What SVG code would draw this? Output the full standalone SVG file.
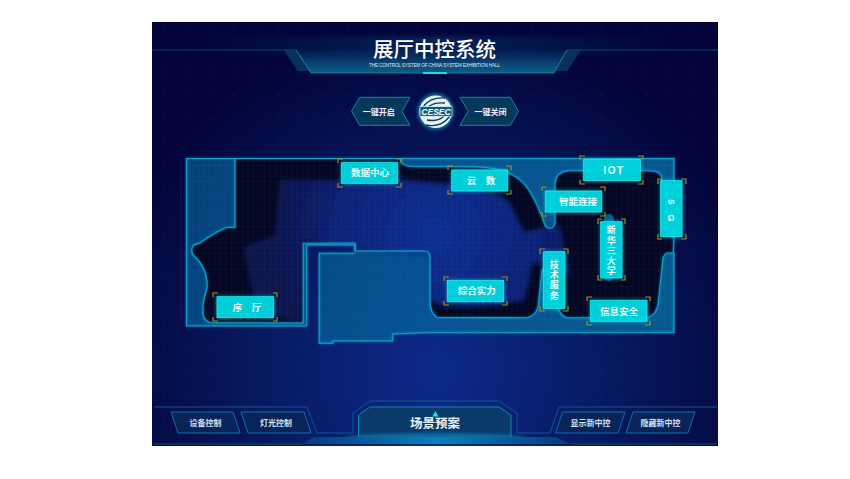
<svg xmlns="http://www.w3.org/2000/svg" width="850" height="479" viewBox="0 0 850 479">
<style>
text{font-family:"Noto Sans CJK SC","Liberation Sans",sans-serif;fill:#fff;text-anchor:middle;font-weight:700}
.box{fill:#03d3dd;fill-opacity:.95;stroke:#20f0f0;stroke-width:.8;filter:url(#glow)}
.lbl{font-size:9.5px;fill:#e8fbfb;font-weight:700}
.v{font-size:9px;writing-mode:vertical-rl;letter-spacing:1.200px}
.brk{fill:none;stroke:#a68f22;stroke-width:1.2}
.wall{fill:none;stroke:#12a0c8;stroke-width:1.1}
.sb{fill:#082458;stroke:#0e6fa5;stroke-width:1}
.bl{font-size:8px;fill:#d5e6f2;font-weight:700}
.hb{fill:#06385c;stroke:#0e86a8;stroke-width:1}
.hl{font-size:8px;fill:#eef;font-weight:700}
</style>
<defs>
<radialGradient id="bg" gradientUnits="userSpaceOnUse" cx="435" cy="370" r="340"><stop offset="0" stop-color="#0c2a8a"/><stop offset=".5" stop-color="#071a62"/><stop offset="1" stop-color="#03053a"/></radialGradient>
<linearGradient id="hdr" x1="0" y1="0" x2="0" y2="1"><stop offset="0" stop-color="#0a4a7c" stop-opacity=".15"/><stop offset=".6" stop-color="#0a4674"/><stop offset="1" stop-color="#0c5c86"/></linearGradient>
<linearGradient id="hglow" x1="0" y1="0" x2="1" y2="0"><stop offset="0" stop-color="#0a4a7c" stop-opacity="0"/><stop offset=".5" stop-color="#0a4a7c" stop-opacity=".8"/><stop offset="1" stop-color="#0a4a7c" stop-opacity="0"/></linearGradient>
<linearGradient id="base" x1="0" y1="0" x2="1" y2="0"><stop offset="0" stop-color="#07397a"/><stop offset=".5" stop-color="#0b80bc"/><stop offset="1" stop-color="#07397a"/></linearGradient>
<linearGradient id="bld" gradientUnits="userSpaceOnUse" x1="186" y1="158" x2="674" y2="333"><stop offset="0" stop-color="#05417a"/><stop offset=".5" stop-color="#055291"/><stop offset="1" stop-color="#08598f"/></linearGradient>
<radialGradient id="room" gradientUnits="userSpaceOnUse" cx="435" cy="235" r="160"><stop offset="0" stop-color="#0d2f94"/><stop offset=".6" stop-color="#0a2278"/><stop offset="1" stop-color="#07134e"/></radialGradient>
<pattern id="grid" width="5.5" height="5.5" patternUnits="userSpaceOnUse"><path d="M5.5 0H0V5.5" fill="none" stroke="#4aa8d8" stroke-opacity=".13" stroke-width=".6"/></pattern>
<pattern id="dots" width="23" height="23" patternUnits="userSpaceOnUse"><circle cx="3" cy="3" r=".5" fill="#3a7ab0" fill-opacity=".4"/></pattern>
<filter id="glow" x="-30%" y="-30%" width="160%" height="160%"><feGaussianBlur in="SourceAlpha" stdDeviation="2.2" result="b"/><feFlood flood-color="#10e0e8" flood-opacity=".6"/><feComposite in2="b" operator="in"/><feMerge><feMergeNode/><feMergeNode in="SourceGraphic"/></feMerge></filter>
<filter id="wglow" x="-5%" y="-5%" width="110%" height="110%"><feGaussianBlur in="SourceGraphic" stdDeviation="1" result="b"/><feMerge><feMergeNode in="b"/><feMergeNode in="SourceGraphic"/></feMerge></filter>
<filter id="soft" x="-10%" y="-10%" width="120%" height="120%"><feGaussianBlur stdDeviation="2.500"/></filter>
<filter id="wg" x="-20%" y="-20%" width="140%" height="140%"><feGaussianBlur stdDeviation="1.500"/></filter>
<path id="interior" d="M235 158.500V227.500H227Q215 232 200 243L194 245Q190 249 193 255Q202 263 205 272Q208 282 207 288Q204 298 203 305V315Q205 322 211 322.700H255L303.300 323V243.300H355V251H424Q430 251 430 257V300Q430 313 437 317.500H443L526.700 317.700Q536 316 538 306.700L541.700 273Q542 268 545 266.700L558 268V308Q561 316 566.700 317.700H646.700Q656 315 658 305L663 258Q665 253 668 253H673.300L674 237H671.700Q662 232 661.700 221.700V177Q660 171 650 170.700H568Q556 172 555 183V223Q554 228 550 228.300Q546 228 545 225Q538 205 530 191.700Q520 175 500 170Q485 166.700 473 166.700H413Q404 166 401.700 163L400 158.500Z"/>
</defs>
<rect width="850" height="479" fill="#fff"/>
<rect x="152" y="22" width="566" height="424" fill="url(#bg)"/>
<rect x="152" y="22" width="566" height="424" fill="url(#dots)"/>
<g id="header">
<rect x="200" y="36" width="470" height="18" fill="url(#hglow)" filter="url(#soft)" opacity=".5"/>
<path d="M152 50H285M567 50H718" fill="none" stroke="#0a3f70" stroke-width="1"/>
<polygon points="283,49 296,49 311,71 298,71" fill="#08305c"/>
<polygon points="567,49 582,49 567,71 554,71" fill="#08305c"/>
<polygon points="296,50 311,73 554,73 567,50" fill="url(#hdr)"/>
<path d="M296 50L311 73H554L567 50" fill="none" stroke="#0f7fa8" stroke-width="1"/>
<rect x="423" y="72" width="24" height="2" fill="#16e0e8"/>
<text x="434.500" y="57" style="font-size:20.500px;font-weight:500">展厅中控系统</text>
<text x="369" y="66.700" style="font-size:4.700px;font-weight:400;fill:#dfeaf2;text-anchor:start;font-family:'Liberation Sans',sans-serif" textLength="131">THE CONTROL SYSTEM OF CHINA SYSTEM EXHIBITION HALL</text>
</g>
<g id="btn-open"><polygon class="hb" points="351.600,111.300 359.600,97.300 410,97.300 402,111.300 410,125.300 359.600,125.300"/><text class="hl" x="378.700" y="114.700">一键开启</text></g>
<g id="btn-close"><polygon class="hb" points="460,97.300 510.400,97.300 518.400,111.300 510.400,125.300 460,125.300 468,111.300"/><text class="hl" x="490.600" y="114.700">一键关闭</text></g>
<g id="logo">
<circle cx="435.700" cy="111.700" r="18.500" fill="#12b8d0" opacity=".5" filter="url(#wg)"/>
<circle cx="435.700" cy="111.700" r="16.300" fill="#e6f3f5"/>
<g fill="none" stroke="#0a3a5e" stroke-width="1.300"><path d="M423 107Q430 97 445 98"/><path d="M428 107Q434 102 445 103"/><path d="M450 116Q441 128 426 125"/><path d="M444 116Q438 122 427 120"/></g>
<rect x="420" y="106.700" width="32" height="9.500" fill="#0e5c80" stroke="#e6f3f5" stroke-width=".6"/>
<text x="436" y="114.500" style="font-size:8.500px;fill:#fff;font-family:'Liberation Sans',sans-serif;font-style:italic;font-weight:700">CESEC</text>
</g>
<g id="plan">
<path d="M186.500 158.500H674V237L674 253V332.700H425L392.700 334V341H333V343.300H319.300V253.300H355V245H306.700V326H186.500Z" fill="url(#bld)"/>
<use href="#interior" fill="#040622"/>
<path d="M279 180H400L440 183Q490 187 510 202L524 232L560 224L570 276L533 262L525 300Q480 310 440 305L430 300V255L355 250L303 240V323L272 316Q256 305 250 285L243 247L275 235Z" fill="url(#room)" filter="url(#soft)"/>
<path d="M186.500 158.500H674V237L674 253V332.700H425L392.700 334V341H333V343.300H319.300V253.300H355V245H306.700V326H186.500Z" fill="url(#grid)"/>
<rect x="604" y="214" width="10" height="67" rx="5" fill="#08598f"/>
<g filter="url(#wglow)">
<path class="wall" d="M186.500 326V158.500H674V237M674 253V332.700H425L392.700 334V341H333V343.300H319.300V253.300H355M306.700 326H186.500M306.700 326V245H355V251"/>
<use href="#interior" class="wall"/>
</g>
</g>
<g id="n-xuting"><rect class="box" x="217" y="296.700" width="56.700" height="21"/><path class="brk" d="M213 297V293H218M273 293H277V297M213 317V321H218M273 321H277V317"/><text class="lbl" x="247" y="311">序　厅</text></g>
<g id="n-data"><rect class="box" x="341.300" y="162.700" width="56.400" height="20.600"/><path class="brk" d="M338 163V159H343M396 159H401V163M338 183V187H343M396 187H401V183"/><text class="lbl" x="370" y="176.200">数据中心</text></g>
<g id="n-cloud"><rect class="box" x="451.700" y="170" width="56" height="21"/><path class="brk" d="M448 170V166H453M506 166H511V170M448 190V194H453M506 194H511V190"/><text class="lbl" x="481" y="184">云　数</text></g>
<g id="n-iot"><rect class="box" x="583.700" y="159.300" width="56.600" height="21.400"/><path class="brk" d="M580 160V156H585M638 156H643V160M580 180V184H585M638 184H643V180"/><text class="lbl" x="614" y="173.500" style="font-family:'Liberation Sans',sans-serif;font-size:10px;letter-spacing:1.500px">IOT</text></g>
<g id="n-smart"><rect class="box" x="545.300" y="191" width="56.400" height="21"/><path class="brk" d="M542 191V187H547M600 187H605V191M542 212V216H547M600 216H605V212"/><text class="lbl" x="578" y="205.200">智能连接</text></g>
<g id="n-5g"><rect class="box" x="660.700" y="180.700" width="21.300" height="56"/><path class="brk" d="M658 184V179H662M681 179H686V184M658 234V239H662M681 239H686V234"/><g transform="translate(671.700 210) rotate(90)"><text class="lbl" x="-8" y="3.300" style="font-family:'Liberation Sans',sans-serif">5</text><text class="lbl" x="8" y="3.300" style="font-family:'Liberation Sans',sans-serif">G</text></g></g>
<g id="n-h3c"><rect class="box" x="600.700" y="221.700" width="21.300" height="56.300"/><path class="brk" d="M598 224V219H602M621 219H625V224M598 275V280H602M621 280H625V275"/><text class="lbl v" x="611.300" y="251">新华三大学</text></g>
<g id="n-tech"><rect class="box" x="543.300" y="251.700" width="21.700" height="56.600"/><path class="brk" d="M540 254V249H545M563 249H568V254M540 306V311H545M563 311H568V306"/><text class="lbl v" x="554.200" y="280.500">技术服务</text></g>
<g id="n-power"><rect class="box" x="447.300" y="280.300" width="56.400" height="21.400"/><path class="brk" d="M444 281V277H449M502 277H507V281M444 301V305H449M502 305H507V301"/><text class="lbl" x="476.700" y="294.200">综合实力</text></g>
<g id="n-sec"><rect class="box" x="590.300" y="300.300" width="56.700" height="21"/><path class="brk" d="M587 301V297H592M645 297H650V301M587 321V325H592M645 325H650V321"/><text class="lbl" x="619" y="314.500">信息安全</text></g>
<g id="footer">
<path d="M154 407H307L317 433H353V413L370 401H499L517 413V433H550L559 407H717" fill="none" stroke="#0b5a8a" stroke-width="1"/>
<path d="M154 444H302M571 444H717" stroke="#0b4f80" stroke-width="1" fill="none"/>
<polygon points="358.500,415 370,407 499,407 511,415 511,438 358.500,438" fill="#0a3a6a" stroke="#0e86a8" stroke-width="1"/>
<ellipse cx="435" cy="438" rx="90" ry="5" fill="#0f8fc8" opacity=".6" filter="url(#wg)"/>
<polygon points="302,444 314,437 556,437 571,444" fill="url(#base)"/>
<polygon points="435.400,411 438.500,416.500 432.300,416.500" fill="#16e0e8"/>
<text x="435" y="428" style="font-size:12.500px;fill:#e8f4f8">场景预案</text>
</g>
<g id="b-device"><polygon class="sb" points="171,412 233,412 240,433 178,433"/><text class="bl" x="205.500" y="426">设备控制</text></g>
<g id="b-light"><polygon class="sb" points="241,412 304,412 311,433 248,433"/><text class="bl" x="276" y="426">灯光控制</text></g>
<g id="b-show"><polygon class="sb" points="562.500,412 625,412 618,433 555.600,433"/><text class="bl" x="590.500" y="426">显示新中控</text></g>
<g id="b-hide"><polygon class="sb" points="633,412 695,412 688,433 626,433"/><text class="bl" x="660.500" y="426">隐藏新中控</text></g>
</svg>
